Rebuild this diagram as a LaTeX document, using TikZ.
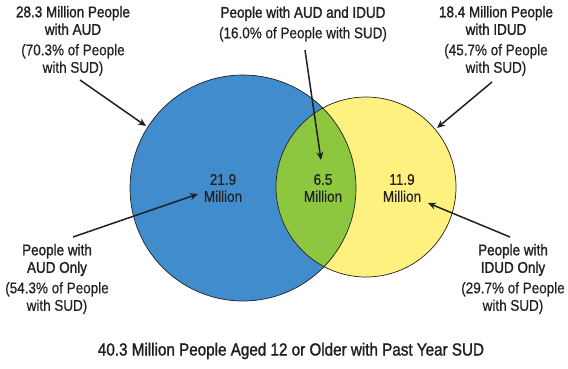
\documentclass[tikz,border=0pt]{standalone}
\usepackage{fontspec}
\setmainfont{Liberation Sans}[FakeStretch=0.87,FakeBold=0.4]
\newfontfamily\headfont{Liberation Sans}[FakeStretch=0.87,FakeBold=1.4]
\usetikzlibrary{arrows.meta}
\definecolor{audblue}{RGB}{65,140,204}
\definecolor{idudyellow}{RGB}{255,241,128}
\definecolor{bothgreen}{RGB}{141,198,63}
\definecolor{inkdark}{RGB}{35,31,32}

\begin{document}
\begin{tikzpicture}[x=1pt, y=-1pt,
		lbl/.style={align=center, text=inkdark, font=\fontsize{15.5}{17.5}\selectfont},
		num/.style={align=center, text=inkdark, font=\fontsize{15.5}{17}\selectfont},
		pointer/.style={draw=inkdark, line width=1.5pt, -{Stealth[length=8pt, width=7pt, inset=2.5pt]}},
		ring/.style={draw=inkdark, line width=0.7pt}]
	\useasboundingbox (0,0) rectangle (568,368);
	% circles
	\coordinate (audc) at (243,188);
	\coordinate (idudc) at (366,187);
	\fill[audblue] (audc) circle[radius=113pt];
	\fill[idudyellow] (idudc) circle[radius=90pt];
	\begin{scope}
		\clip (audc) circle[radius=113pt];
		\fill[bothgreen] (idudc) circle[radius=90pt];
	\end{scope}
	\draw[ring] (audc) circle[radius=113pt];
	\draw[ring] (idudc) circle[radius=90pt];
	% numbers
	\node[num] (audnum) at (223,188) {21.9\\Million};
	\node[num] (bothnum) at (323,188) {6.5\\Million};
	\node[num] (idudnum) at (402,188) {11.9\\Million};
	% labels
	\node[lbl] (audlbl) at (73,41) {{\headfont 28.3 Million People}\\{\headfont with AUD}\\[3pt](70.3\% of People\\with SUD)};
	\node[lbl] (bothlbl) at (303,24) {{\headfont People with AUD and IDUD}\\[3pt](16.0\% of People with SUD)};
	\node[lbl] (idudlbl) at (496,41) {{\headfont 18.4 Million People}\\{\headfont with IDUD}\\[3pt](45.7\% of People\\with SUD)};
	\node[lbl] (audonly) at (57,279) {{\headfont People with}\\{\headfont AUD Only}\\[3pt](54.3\% of People\\with SUD)};
	\node[lbl] (idudonly) at (513,279) {{\headfont People with}\\{\headfont IDUD Only}\\[3pt](29.7\% of People\\with SUD)};
	\node[text=inkdark, font=\headfont\fontsize{17.5}{20}\selectfont] (title) at (291,351) {40.3 Million People Aged 12 or Older with Past Year SUD};
	% pointers
	\coordinate (p1) at (80,80);
	\coordinate (q1) at (146,126);
	\coordinate (p2) at (305,50);
	\coordinate (q2) at (321,160);
	\coordinate (p3) at (492,82);
	\coordinate (q3) at (437,128);
	\coordinate (p4) at (73,237);
	\coordinate (q4) at (198,194);
	\coordinate (p5) at (510,237);
	\coordinate (q5) at (428,203);
	\draw[pointer] (p1) -- (q1);
	\draw[pointer] (p2) -- (q2);
	\draw[pointer] (p3) -- (q3);
	\draw[pointer] (p4) -- (q4);
	\draw[pointer] (p5) -- (q5);
\end{tikzpicture}
\end{document}
